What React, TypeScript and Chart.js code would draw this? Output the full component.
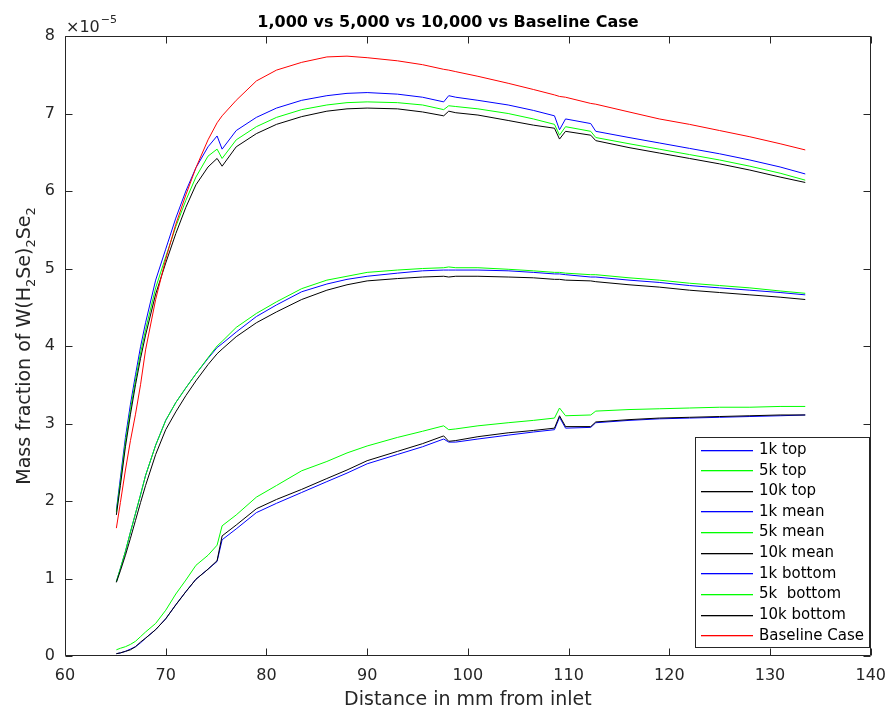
import React, { useEffect, useRef } from "react";
import { Chart, registerables } from "chart.js";

Chart.register(...registerables);

// Distance from inlet (mm)
const distanceMm = [65.1, 65.5, 66, 66.5, 67, 67.5, 68, 69, 70, 71, 72, 73, 74.2, 75.1, 75.6, 77, 79, 81, 83.5, 86, 88, 90, 93, 95.5, 97.6, 98.1, 98.8, 101, 104, 106.5, 108.6, 109.1, 109.7, 112.2, 112.7, 116, 119, 122, 125, 128, 131, 133.5];

// Mass fraction values in units of 1e-5
const top1k = [1.88, 2.3, 2.82, 3.25, 3.63, 3.99, 4.3, 4.85, 5.25, 5.65, 6.0, 6.3, 6.57, 6.71, 6.54, 6.78, 6.95, 7.07, 7.17, 7.23, 7.26, 7.27, 7.25, 7.21, 7.15, 7.23, 7.21, 7.17, 7.11, 7.04, 6.97, 6.79, 6.93, 6.87, 6.77, 6.69, 6.62, 6.55, 6.48, 6.4, 6.31, 6.22];
const top5k = [1.86, 2.25, 2.76, 3.18, 3.56, 3.91, 4.21, 4.75, 5.15, 5.54, 5.88, 6.18, 6.45, 6.54, 6.42, 6.66, 6.83, 6.95, 7.05, 7.11, 7.14, 7.15, 7.14, 7.11, 7.05, 7.1, 7.09, 7.06, 7.0, 6.93, 6.86, 6.72, 6.83, 6.77, 6.69, 6.61, 6.54, 6.47, 6.4, 6.32, 6.23, 6.14];
const top10k = [1.82, 2.2, 2.7, 3.12, 3.5, 3.84, 4.14, 4.67, 5.07, 5.45, 5.79, 6.08, 6.31, 6.42, 6.32, 6.57, 6.74, 6.86, 6.96, 7.03, 7.06, 7.07, 7.06, 7.02, 6.97, 7.03, 7.01, 6.98, 6.91, 6.85, 6.81, 6.67, 6.77, 6.72, 6.65, 6.56, 6.49, 6.42, 6.35, 6.27, 6.18, 6.11];
const mean1k = [0.96, 1.13, 1.35, 1.6, 1.84, 2.08, 2.33, 2.72, 3.04, 3.27, 3.46, 3.64, 3.84, 3.98, 4.03, 4.18, 4.38, 4.53, 4.7, 4.8, 4.86, 4.9, 4.94, 4.97, 4.98, 4.98, 4.98, 4.98, 4.97, 4.95, 4.93, 4.93, 4.92, 4.89, 4.89, 4.85, 4.82, 4.78, 4.75, 4.72, 4.69, 4.66];
const mean5k = [0.96, 1.13, 1.35, 1.6, 1.84, 2.08, 2.33, 2.72, 3.04, 3.27, 3.46, 3.64, 3.85, 4.0, 4.06, 4.24, 4.42, 4.57, 4.74, 4.85, 4.9, 4.95, 4.98, 5.0, 5.01, 5.02, 5.01, 5.01, 4.99, 4.97, 4.95, 4.95, 4.94, 4.92, 4.92, 4.88, 4.85, 4.81, 4.78, 4.75, 4.71, 4.68];
const mean10k = [0.95, 1.1, 1.3, 1.52, 1.75, 1.98, 2.2, 2.6, 2.92, 3.15, 3.36, 3.55, 3.76, 3.9, 3.96, 4.12, 4.3, 4.44, 4.6, 4.72, 4.79, 4.84, 4.87, 4.89, 4.9, 4.89, 4.9, 4.9, 4.89, 4.88, 4.86, 4.86, 4.85, 4.84, 4.83, 4.79, 4.76, 4.72, 4.69, 4.66, 4.63, 4.6];
const bottom1k = [0.03, 0.04, 0.06, 0.09, 0.12, 0.17, 0.23, 0.34, 0.48, 0.66, 0.83, 0.99, 1.12, 1.22, 1.5, 1.64, 1.85, 1.97, 2.11, 2.25, 2.36, 2.48, 2.6, 2.7, 2.8, 2.76, 2.76, 2.8, 2.85, 2.89, 2.92, 3.08, 2.94, 2.95, 3.01, 3.04, 3.06, 3.07, 3.08, 3.09, 3.1, 3.11];
const bottom5k = [0.08, 0.1, 0.12, 0.15, 0.19, 0.25, 0.31, 0.42, 0.59, 0.8, 0.98, 1.17, 1.3, 1.43, 1.68, 1.82, 2.05, 2.2, 2.39, 2.51, 2.62, 2.71, 2.82, 2.9, 2.97, 2.92, 2.93, 2.97, 3.01, 3.04, 3.07, 3.2, 3.1, 3.11, 3.16, 3.18, 3.19, 3.2, 3.21, 3.21, 3.22, 3.22];
const bottom10k = [0.03, 0.04, 0.06, 0.08, 0.12, 0.18, 0.23, 0.34, 0.48, 0.66, 0.83, 0.99, 1.12, 1.23, 1.55, 1.69, 1.9, 2.02, 2.15, 2.29, 2.4, 2.52, 2.64, 2.74, 2.84, 2.77, 2.78, 2.83, 2.88, 2.91, 2.94, 3.1, 2.96, 2.96, 3.02, 3.05, 3.07, 3.08, 3.09, 3.1, 3.11, 3.11];
const baseline = [1.65, 1.98, 2.4, 2.78, 3.12, 3.5, 3.95, 4.6, 5.12, 5.57, 5.95, 6.3, 6.66, 6.88, 6.97, 7.17, 7.42, 7.56, 7.66, 7.73, 7.74, 7.72, 7.68, 7.63, 7.57, 7.56, 7.54, 7.48, 7.39, 7.31, 7.24, 7.22, 7.21, 7.13, 7.12, 7.02, 6.93, 6.86, 6.78, 6.7, 6.61, 6.53];

const seriesLabels = ["1k top", "5k top", "10k top", "1k mean", "5k mean", "10k mean", "1k bottom", "5k  bottom", "10k bottom", "Baseline Case"];
const seriesColors = ["#0000ff", "#00ff00", "#000000", "#0000ff", "#00ff00", "#000000", "#0000ff", "#00ff00", "#000000", "#ff0000"];

const xTickValues = [60, 70, 80, 90, 100, 110, 120, 130, 140];
const yTickValues = [0, 1, 2, 3, 4, 5, 6, 7, 8];

const titleText = "1,000 vs 5,000 vs 10,000 vs Baseline Case";
const xLabelText = "Distance in mm from inlet";
const yLabelParts: [string, boolean][] = [["Mass fraction of W(H", false], ["2", true], ["Se)", false], ["2", true], ["Se", false], ["2", true]];
const exponentBase = "×10";
const exponentPower = "−5";

const FONT = "'DejaVu Sans', sans-serif";
const AXIS_COLOR = "#262626";

const framePlugin = {
  id: "matlabFrame",
  afterDraw(chart: any) {
    const { ctx, chartArea, scales } = chart;
    const xs = scales.x;
    const ys = scales.y;
    const L = Math.round(chartArea.left) + 0.5;
    const R = Math.round(chartArea.right) - 0.5;
    const T = Math.round(chartArea.top) + 0.5;
    const B = Math.round(chartArea.bottom) - 0.5;
    const tl = 7;
    ctx.save();
    ctx.strokeStyle = AXIS_COLOR;
    ctx.lineWidth = 1;
    ctx.beginPath();
    ctx.rect(L, T, R - L, B - T);
    xTickValues.forEach((v) => {
      const px = Math.round(xs.getPixelForValue(v)) + 0.5;
      ctx.moveTo(px, B);
      ctx.lineTo(px, B - tl);
      ctx.moveTo(px, T);
      ctx.lineTo(px, T + tl);
    });
    yTickValues.forEach((v) => {
      const py = Math.round(ys.getPixelForValue(v)) + 0.5;
      ctx.moveTo(L, py);
      ctx.lineTo(L + tl, py);
      ctx.moveTo(R, py);
      ctx.lineTo(R - tl, py);
    });
    ctx.stroke();

    // exponent marker
    ctx.fillStyle = AXIS_COLOR;
    ctx.textBaseline = "alphabetic";
    ctx.textAlign = "left";
    ctx.font = `16px ${FONT}`;
    ctx.fillText(exponentBase, 66, 31.5);
    const bw = ctx.measureText(exponentBase).width;
    ctx.font = `11px ${FONT}`;
    ctx.fillText(exponentPower, 66 + bw + 1, 23);

    // title
    ctx.fillStyle = "#000";
    ctx.font = `bold 16px ${FONT}`;
    ctx.textAlign = "center";
    ctx.fillText(titleText, 448, 27);

    // x label
    ctx.fillStyle = AXIS_COLOR;
    ctx.font = `19px ${FONT}`;
    ctx.fillText(xLabelText, (chartArea.left + chartArea.right) / 2, 705);

    // y label with subscripts
    ctx.save();
    ctx.translate(29.5, (chartArea.top + chartArea.bottom) / 2);
    ctx.rotate(-Math.PI / 2);
    ctx.textAlign = "left";
    const mainF = `19px ${FONT}`;
    const subF = `13px ${FONT}`;
    let total = 0;
    yLabelParts.forEach(([t, sub]) => {
      ctx.font = sub ? subF : mainF;
      total += ctx.measureText(t).width;
    });
    let cx = -total / 2;
    yLabelParts.forEach(([t, sub]) => {
      ctx.font = sub ? subF : mainF;
      ctx.fillText(t, cx, sub ? 5 : 0);
      cx += ctx.measureText(t).width;
    });
    ctx.restore();

    // legend
    const lx = 695.5, ly = 437.5, lw = 174, lh = 210;
    ctx.fillStyle = "#ffffff";
    ctx.fillRect(lx, ly, lw, lh);
    ctx.strokeStyle = AXIS_COLOR;
    ctx.lineWidth = 1;
    ctx.strokeRect(lx, ly, lw, lh);
    ctx.font = `15px ${FONT}`;
    ctx.textAlign = "left";
    ctx.textBaseline = "middle";
    seriesLabels.forEach((lab, i) => {
      const yy = 449.5 + i * 20.65;
      ctx.fillStyle = seriesColors[i];
      ctx.fillRect(701, Math.round(yy), 52, 1.3);
      ctx.fillStyle = "#000000";
      ctx.fillText(lab, 759, yy + 0.5);
    });
    ctx.restore();
  },
};

export default function App() {
  const ref = useRef<HTMLCanvasElement>(null);
  useEffect(() => {
    const seriesValues = [top1k, top5k, top10k, mean1k, mean5k, mean10k, bottom1k, bottom5k, bottom10k, baseline];
    const chart = new Chart(ref.current as HTMLCanvasElement, {
      type: "line",
      data: {
        datasets: seriesValues.map((vals, i) => ({
          label: seriesLabels[i],
          data: distanceMm.map((x, j) => ({ x, y: vals[j] })),
          borderColor: seriesColors[i],
          backgroundColor: seriesColors[i],
          borderWidth: 1,
          pointRadius: 0,
          tension: 0,
          fill: false,
          order: seriesValues.length - i,
        })),
      },
      options: {
        animation: false,
        responsive: false,
        devicePixelRatio: 1,
        layout: { padding: { top: 36, right: 17, left: 0, bottom: 0 } },
        plugins: {
          legend: { display: false },
          tooltip: { enabled: false },
          title: { display: false },
        },
        scales: {
          x: {
            type: "linear",
            min: 60,
            max: 140,
            afterFit: (s: any) => {
              s.height = 53;
            },
            grid: { display: false, drawTicks: false },
            border: { display: false },
            ticks: {
              stepSize: 10,
              padding: 10,
              autoSkip: false,
              maxRotation: 0,
              color: AXIS_COLOR,
              font: { family: FONT, size: 16 },
            },
          },
          y: {
            type: "linear",
            min: 0,
            max: 8,
            afterFit: (s: any) => {
              s.width = 65;
            },
            grid: { display: false, drawTicks: false },
            border: { display: false },
            ticks: {
              stepSize: 1,
              padding: 10,
              color: AXIS_COLOR,
              font: { family: FONT, size: 16 },
            },
          },
        },
      } as any,
      plugins: [framePlugin],
    });
    return () => chart.destroy();
  }, []);
  return (
    <div style={{ position: "absolute", left: 0, top: 0, width: 896, height: 709, background: "#fff" }}>
      <canvas ref={ref} width={896} height={709} style={{ display: "block" }} />
    </div>
  );
}
